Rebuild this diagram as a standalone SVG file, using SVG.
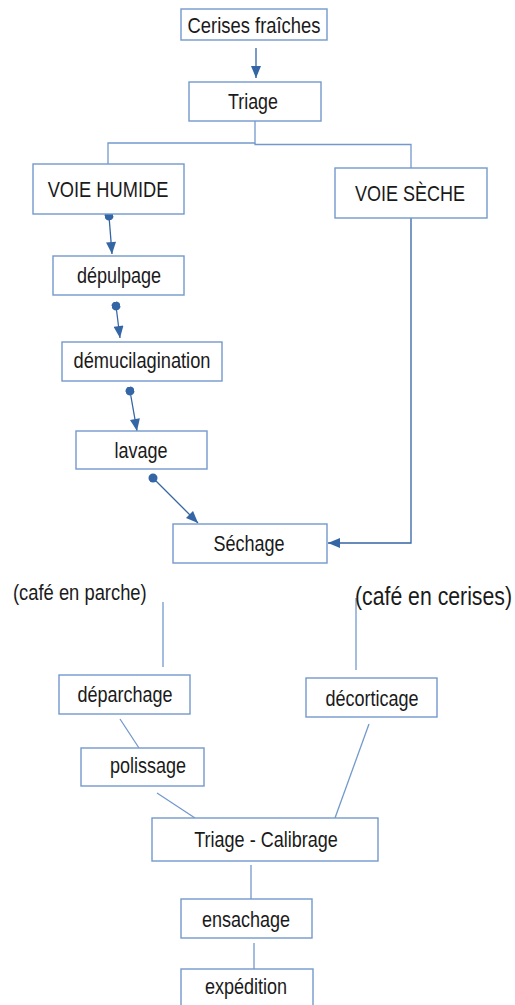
<svg xmlns="http://www.w3.org/2000/svg" width="515" height="1005" viewBox="0 0 515 1005">
<defs>
<marker id="arr" viewBox="0 0 12 10" refX="12" refY="5" markerWidth="13" markerHeight="10" markerUnits="userSpaceOnUse" orient="auto">
<path d="M0,0 L12,5 L0,10 z" fill="#3465a4"/>
</marker>
<marker id="dot" viewBox="0 0 10 10" refX="5" refY="5" markerWidth="9" markerHeight="9" markerUnits="userSpaceOnUse" orient="auto">
<circle cx="5" cy="5" r="5" fill="#3465a4"/>
</marker>
</defs>
<style>
.box{fill:#fff;stroke:#7399cc;stroke-width:1.4}
.t{font-family:"Liberation Sans",Arial,sans-serif;font-size:22px;fill:#1a1a1a;text-anchor:middle}
.tl{font-family:"Liberation Sans",Arial,sans-serif;font-size:22px;fill:#1a1a1a}
.ln{fill:none;stroke:#7399cc;stroke-width:1.3}
.ar{fill:none;stroke:#3465a4;stroke-width:1.3}
</style>
<rect width="515" height="1005" fill="#fff"/>
<g id="connectors">
<line class="ar" x1="256" y1="48" x2="256" y2="78" marker-end="url(#arr)"/>
<polyline class="ln" points="255,121 255,143 108,143 108,164"/>
<polyline class="ln" points="255,143 255,144.5 411,144.5 411,168"/>
<line class="ar" x1="109" y1="216" x2="112" y2="254" marker-start="url(#dot)" marker-end="url(#arr)"/>
<line class="ar" x1="116" y1="306" x2="120" y2="338" marker-start="url(#dot)" marker-end="url(#arr)"/>
<line class="ar" x1="130" y1="391" x2="137" y2="431" marker-start="url(#dot)" marker-end="url(#arr)"/>
<line class="ar" x1="153" y1="478" x2="198" y2="523" marker-start="url(#dot)" marker-end="url(#arr)"/>
<polyline class="ar" points="411,218 411,543 328,543" marker-end="url(#arr)"/>
<line class="ln" x1="163" y1="602" x2="163" y2="667"/>
<line class="ln" x1="356" y1="598" x2="356" y2="670"/>
<line class="ln" x1="120" y1="719" x2="139" y2="748"/>
<line class="ln" x1="157" y1="793" x2="195" y2="818"/>
<line class="ln" x1="369" y1="724" x2="335" y2="818"/>
<line class="ln" x1="251" y1="865" x2="251" y2="899"/>
<line class="ln" x1="254" y1="943" x2="254" y2="969"/>
</g>
<g id="n-cerises"><rect class="box" x="181" y="9" width="146" height="31"/><text class="t" transform="translate(254,33) scale(0.837,1)">Cerises fraîches</text></g>
<g id="n-triage"><rect class="box" x="189" y="82" width="132" height="39"/><text class="t" transform="translate(253,109) scale(0.81,1)">Triage</text></g>
<g id="n-humide"><rect class="box" x="33" y="164" width="151" height="50"/><text class="t" transform="translate(108,197) scale(0.83,1)">VOIE HUMIDE</text></g>
<g id="n-seche"><rect class="box" x="335" y="168" width="152" height="50"/><text class="t" transform="translate(410,201) scale(0.82,1)">VOIE SÈCHE</text></g>
<g id="n-depulpage"><rect class="box" x="53" y="256" width="131" height="39"/><text class="t" transform="translate(119,283) scale(0.82,1)">dépulpage</text></g>
<g id="n-demuc"><rect class="box" x="62" y="342" width="160" height="39"/><text class="t" transform="translate(142,368) scale(0.83,1)">démucilagination</text></g>
<g id="n-lavage"><rect class="box" x="76" y="431" width="131" height="38"/><text class="t" transform="translate(141,458) scale(0.82,1)">lavage</text></g>
<g id="n-sechage"><rect class="box" x="173" y="524" width="154" height="39"/><text class="t" transform="translate(249,551) scale(0.82,1)">Séchage</text></g>
<g id="n-parche"><text class="tl" transform="translate(13,600) scale(0.835,1)">(café en parche)</text></g>
<g id="n-cerises2"><text class="tl" style="font-size:25px" transform="translate(355,605) scale(0.85,1)">(café en cerises)</text></g>
<g id="n-deparchage"><rect class="box" x="59" y="675" width="131" height="39"/><text class="t" transform="translate(125,702) scale(0.82,1)">déparchage</text></g>
<g id="n-decorticage"><rect class="box" x="306" y="678" width="131" height="39"/><text class="t" transform="translate(372,706) scale(0.82,1)">décorticage</text></g>
<g id="n-polissage"><rect class="box" x="81" y="748" width="123" height="38"/><text class="t" transform="translate(148,773) scale(0.82,1)">polissage</text></g>
<g id="n-calibrage"><rect class="box" x="152" y="818" width="226" height="43"/><text class="t" transform="translate(266,847) scale(0.82,1)">Triage - Calibrage</text></g>
<g id="n-ensachage"><rect class="box" x="181" y="899" width="131" height="39"/><text class="t" transform="translate(246,927) scale(0.82,1)">ensachage</text></g>
<g id="n-expedition"><rect class="box" x="181" y="969" width="132" height="45"/><text class="t" transform="translate(246,994) scale(0.82,1)">expédition</text></g>
</svg>
